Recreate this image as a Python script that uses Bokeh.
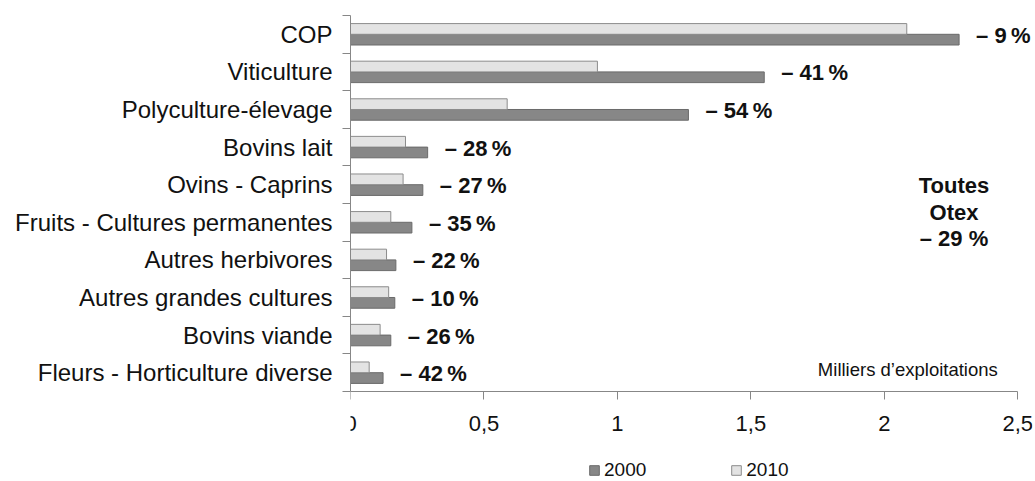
from bokeh.plotting import figure
from bokeh.models import (ColumnDataSource, FixedTicker, CustomJSTickFormatter, Range1d,
                          Legend, LegendItem)
from bokeh.core.properties import value
from bokeh.embed import file_html
from bokeh.resources import INLINE

categories = ["COP", "Viticulture", "Polyculture-élevage", "Bovins lait", "Ovins - Caprins",
              "Fruits - Cultures permanentes", "Autres herbivores", "Autres grandes cultures",
              "Bovins viande", "Fleurs - Horticulture diverse"]
values_2000 = [2.28, 1.55, 1.266, 0.289, 0.271, 0.230, 0.170, 0.166, 0.151, 0.122]
values_2010 = [2.084, 0.925, 0.587, 0.206, 0.197, 0.151, 0.135, 0.143, 0.111, 0.070]
changes = ["– 9\u2009%", "– 41\u2009%", "– 54\u2009%", "– 28\u2009%", "– 27\u2009%",
           "– 35\u2009%", "– 22\u2009%", "– 10\u2009%", "– 26\u2009%", "– 42\u2009%"]
x_ticks = [0, 0.5, 1, 1.5, 2, 2.5]
x_tick_labels = ["0", "0,5", "1", "1,5", "2", "2,5"]
series_names = ["2000", "2010"]
total_note = ["Toutes", "Otex", "– 29 %"]
unit_note = "Milliers d’exploitations"

FONT = value("Liberation Sans")
TXT = "#111111"
AXIS = "#878787"
DARK = "#878787"
DARK_LINE = "#6a6a6a"
LIGHT = "#e3e3e3"
LIGHT_LINE = "#8c8c8c"

n = len(categories)
centers = [n - 0.5 - i for i in range(n)]
bar_h = 0.285
src = ColumnDataSource(dict(
    cat=categories,
    y=centers,
    y2000=[c - bar_h / 2 for c in centers],
    y2010=[c + bar_h / 2 for c in centers],
    v2000=values_2000,
    v2010=values_2010,
    change=changes,
))

x_max = 2.555   # a little room right of the axis end for the "– 9 %" label
y_min = -2.394  # room under the x axis (inside the frame) for the legend
p = figure(frame_width=682, frame_height=466, x_range=Range1d(0, x_max),
           y_range=Range1d(y_min, n),
           output_backend="svg", toolbar_location=None,
           min_border_left=350, min_border_right=3, min_border_top=15, min_border_bottom=0)
p.outline_line_color = None
p.xgrid.visible = False
p.ygrid.visible = False
p.background_fill_color = "white"
p.border_fill_color = "white"

r2000 = p.hbar(y="y2000", left=0, right="v2000", height=bar_h, source=src,
               fill_color=DARK, line_color=DARK_LINE, line_width=1)
r2010 = p.hbar(y="y2010", left=0, right="v2010", height=bar_h, source=src,
               fill_color=LIGHT, line_color=LIGHT_LINE, line_width=1)

p.text(x="v2000", y="y", text="change", source=src, x_offset=17, y_offset=1,
       text_font=FONT, text_font_style="bold", text_font_size="22px",
       text_align="left", text_baseline="middle", text_color=TXT)

note_y = [5.48, 4.77, 4.07]
p.text(x=[2.261] * 3, y=note_y, text=total_note, text_font=FONT, text_font_style="bold",
       text_font_size="22px", text_align="center", text_baseline="middle", text_color=TXT)

p.text(x=[2.425], y=[0.58], text=[unit_note], text_font=FONT, text_font_size="18.5px",
       text_align="right", text_baseline="middle", text_color=TXT)

# x axis, drawn at y = 0 inside the frame
xa = p.xaxis[0]
xa.fixed_location = 0
xa.bounds = (x_ticks[0], x_ticks[-1])
xa.ticker = FixedTicker(ticks=x_ticks)
xa.formatter = CustomJSTickFormatter(args=dict(tvals=x_ticks, tlabs=x_tick_labels),
    code="const i = tvals.findIndex(t => Math.abs(t - tick) < 1e-9); return i >= 0 ? tlabs[i] : '';")
xa.axis_line_color = AXIS
xa.major_tick_line_color = AXIS
xa.major_tick_out = 8
xa.major_tick_in = 0
xa.minor_tick_line_color = None
xa.major_label_text_font = "Liberation Sans"
xa.major_label_text_font_size = "22px"
xa.major_label_text_color = TXT
xa.major_label_standoff = 17

# y axis
ya = p.yaxis[0]
ya.bounds = (0, n)
ya.ticker = FixedTicker(ticks=centers, minor_ticks=list(range(n + 1)))
ya.formatter = CustomJSTickFormatter(args=dict(cats=categories, ncat=n),
    code="return cats[Math.round(ncat - 0.5 - tick)];")
ya.axis_line_color = AXIS
ya.major_tick_line_color = None
ya.minor_tick_line_color = AXIS
ya.minor_tick_out = 8
ya.minor_tick_in = 0
ya.major_label_text_font = "Liberation Sans"
ya.major_label_text_font_size = "24px"
ya.major_label_text_color = TXT
ya.major_label_standoff = 10

legend = Legend(items=[LegendItem(label=series_names[0], renderers=[r2000]),
                       LegendItem(label=series_names[1], renderers=[r2010])],
                orientation="horizontal", location=(238, 0),
                glyph_width=12, glyph_height=12, label_standoff=4, spacing=84,
                padding=0, margin=0, border_line_color=None, background_fill_alpha=0,
                label_text_font="Liberation Sans", label_text_font_size="19px",
                label_text_color=TXT, label_height=14)
p.add_layout(legend, "center")

open("out.html", "w").write(file_html(p, INLINE))
